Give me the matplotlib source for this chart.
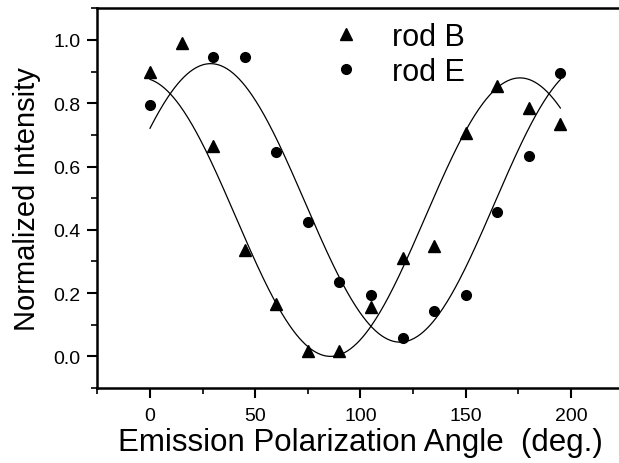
import numpy as np
import matplotlib
matplotlib.use("Agg")
import matplotlib.pyplot as plt
from matplotlib.ticker import MultipleLocator

plt.rcParams['font.family'] = ['Liberation Sans', 'DejaVu Sans']

# Measured data
angles = [0, 15, 30, 45, 60, 75, 90, 105, 120, 135, 150, 165, 180, 195]
rod_b = [0.90, 0.99, 0.665, 0.335, 0.167, 0.017, 0.017, 0.155, 0.31, 0.35, 0.705, 0.855, 0.786, 0.735]
angles_e = [0, 30, 45, 60, 75, 90, 105, 120, 135, 150, 165, 180, 195]
rod_e = [0.795, 0.945, 0.945, 0.645, 0.425, 0.235, 0.195, 0.058, 0.142, 0.195, 0.455, 0.634, 0.895]

# cos^2 fit parameters (offset, amplitude, phase in deg)
fit_b = dict(offset=0.0, amp=0.88, phase=175.8)
fit_e = dict(offset=0.045, amp=0.88, phase=28.8)
fit_range = (0, 195)

legend_labels = ["rod B", "rod E"]
x_label = "Emission Polarization Angle  (deg.)"
y_label = "Normalized Intensity"
x_ticks = [0, 50, 100, 150, 200]
y_ticks = [0.0, 0.2, 0.4, 0.6, 0.8, 1.0]

fig = plt.figure(figsize=(6.19, 4.64), dpi=100)
ax = fig.add_axes([0.1573, 0.1616, 0.850, 0.8184])

xf = np.linspace(fit_range[0], fit_range[1], 400)
for p in (fit_b, fit_e):
    yf = p['offset'] + p['amp'] * np.cos(np.radians(xf - p['phase'])) ** 2
    ax.plot(xf, yf, color='black', lw=0.9)

ax.plot(angles, rod_b, linestyle='none', marker='^', ms=8.5, color='black')
ax.plot(angles_e, rod_e, linestyle='none', marker='o', ms=7, color='black')

ax.set_xlim(-25, 225)
ax.set_ylim(-0.1, 1.1)
ax.xaxis.set_minor_locator(MultipleLocator(25))
ax.yaxis.set_minor_locator(MultipleLocator(0.1))
ax.set_yticks(y_ticks)
ax.set_yticklabels([f"{v:.1f}" for v in y_ticks])
ax.set_xticks(x_ticks)

ax.tick_params(axis='both', which='major', direction='out', length=7, width=1.5, labelsize=14)
ax.tick_params(axis='both', which='minor', direction='out', length=4, width=1.2)
ax.tick_params(axis='x', which='major', pad=7)
ax.tick_params(axis='y', which='major', pad=5)

for s in ax.spines.values():
    s.set_linewidth(1.8)

ax.set_xlabel(x_label, fontsize=22.5, labelpad=2)
ax.set_ylabel(y_label, fontsize=21, labelpad=9)

leg_handles = [
    plt.Line2D([], [], linestyle='none', marker='^', ms=8.5, color='black'),
    plt.Line2D([], [], linestyle='none', marker='o', ms=7, color='black'),
]
ax.legend(leg_handles, legend_labels, loc='upper left', bbox_to_anchor=(0.392, 1.036),
          frameon=False, fontsize=22, handletextpad=1.0, labelspacing=0.15,
          handlelength=1.0)

fig.savefig("out.png", dpi=100)
